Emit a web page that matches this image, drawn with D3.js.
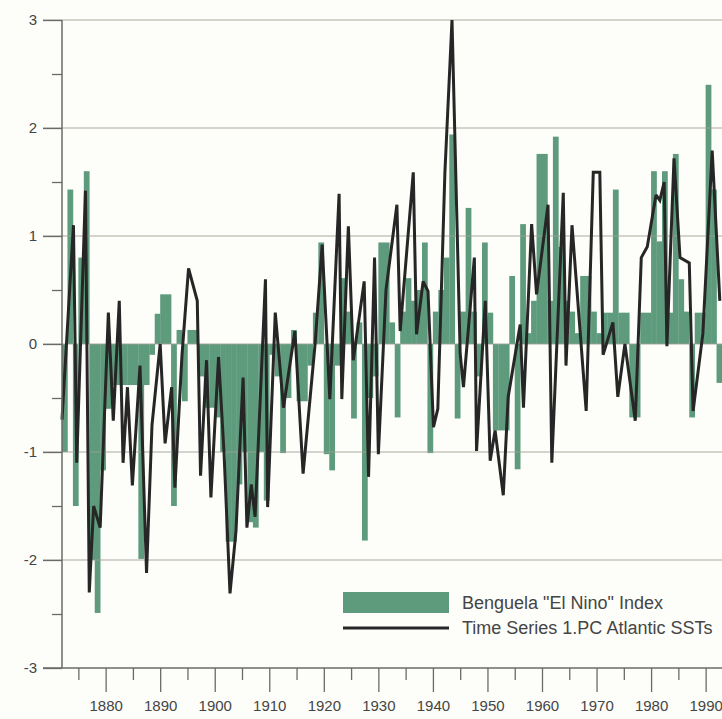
<!DOCTYPE html>
<html>
<head>
<meta charset="utf-8">
<script src="https://cdn.jsdelivr.net/npm/d3@7"></script>
<style>
  html, body { margin: 0; padding: 0; background: #fdfdf9; }
  svg { display: block; font-family: "Liberation Sans", Arial, sans-serif; }
</style>
</head>
<body>
<svg id="chart" width="722" height="719"></svg>
<script>
// Benguela index, one bar per year starting 1872
const firstYear = 1872;
const benguelaIndex = [
  -1.0, 1.43, -1.5, 0.8, 1.6, -2.0, -2.49, -1.17, -0.6, -0.38,
  -0.38, -0.38, -0.38, -0.38, -1.99, -0.38, -0.1, 0.28, 0.46, 0.46,
  -1.5, 0.13, -0.53, 0.13, 0.13, -0.3, -0.59, -0.59, -0.68, -1.0,
  -1.83, -1.83, -1.3, -1.0, -1.65, -1.7, -1.0, -1.45, -0.1, -0.3,
  -1.01, -0.5, 0.13, -0.53, -0.53, -0.2, 0.29, 0.94, -1.02, -1.17,
  -0.2, 0.61, 0.3, -0.69, 0.2, -1.82, -0.5, -0.3, 0.94, 0.94,
  0.2, -0.68, 0.3, 0.61, 0.4, 0.5, 0.94, -1.01, 0.3, 0.5,
  0.8, 1.94, -0.69, 0.3, 1.26, 0.3, -0.3, 0.94, 0.29, -0.8,
  -0.8, -0.8, 0.63, -1.16, 1.11, 0.1, 0.4, 1.76, 1.76, 0.4,
  1.92, 0.9, 0.4, 0.3, 0.1, 0.63, 0.63, 0.3, 0.1, 0.29,
  0.29, 1.43, 0.29, 0.29, -0.68, -0.68, 0.29, 0.29, 1.6, 0.95,
  1.6, 0.29, 1.76, 0.6, 0.3, -0.68, 0.29, 0.29, 2.4, 1.43,
  -0.36
];

// 1.PC Atlantic SSTs, vertices
const pcYears = [
  1872.0, 1874.1, 1874.7, 1876.3, 1877.0, 1877.8, 1879.0, 1880.5, 1881.4, 1882.5,
  1883.2, 1884.0, 1884.9, 1886.3, 1887.5, 1888.5, 1890.0, 1890.9, 1892.1, 1892.7,
  1894.0, 1895.2, 1896.8, 1897.4, 1898.5, 1899.3, 1900.7, 1901.7, 1902.8, 1903.9,
  1905.2, 1905.9, 1906.7, 1907.4, 1908.3, 1909.3, 1909.7, 1911.1, 1912.6, 1914.7,
  1916.2, 1918.4, 1919.7, 1921.1, 1922.8, 1923.3, 1924.5, 1925.4, 1927.4, 1928.2,
  1929.3, 1930.0, 1931.4, 1933.4, 1934.0, 1936.4, 1937.0, 1938.2, 1939.1, 1940.1,
  1940.9, 1942.2, 1943.5, 1945.0, 1945.6, 1947.6, 1948.0, 1949.6, 1950.5, 1951.4,
  1952.9, 1953.8, 1956.0, 1956.6, 1958.1, 1959.0, 1961.1, 1961.8, 1963.9, 1964.4,
  1965.5, 1968.1, 1969.4, 1970.6, 1971.2, 1973.0, 1973.9, 1975.2, 1977.1, 1978.2,
  1979.3, 1980.9, 1981.6, 1982.4, 1982.9, 1984.2, 1985.3, 1987.0, 1987.7, 1989.5,
  1991.2, 1992.6
];
const pcValues = [
  -0.7, 1.1, -1.1, 1.42, -2.3, -1.5, -1.7, 0.29, -0.71, 0.4,
  -1.1, -0.4, -1.31, -0.2, -2.12, -0.75, 0.0, -0.92, -0.4, -1.33,
  -0.1, 0.7, 0.4, -1.22, -0.15, -1.42, -0.12, -1.0, -2.31, -1.73,
  -0.31, -1.7, -1.3, -1.6, -0.56, 0.6, -1.51, 0.29, -0.59, 0.12,
  -1.2, 0.0, 0.92, -0.51, 1.39, -0.51, 1.09, -0.15, 0.58, -1.23,
  0.8, -1.02, 0.5, 1.29, 0.12, 1.59, 0.09, 0.58, 0.49, -0.77,
  -0.6, 1.59, 3.0, -0.09, -0.4, 0.8, -0.99, 0.4, -1.08, -0.8,
  -1.4, -0.49, 0.18, -0.59, 1.11, 0.46, 1.29, -1.1, 1.4, -0.2,
  1.1, -0.62, 1.59, 1.59, -0.1, 0.2, -0.49, 0.0, -0.71, 0.8,
  0.9, 1.38, 1.33, 1.5, -0.02, 1.72, 0.8, 0.75, -0.62, 0.1,
  1.79, 0.4
];

const yTicks = [-3, -2, -1, 0, 1, 2, 3];
const yMinorTicks = [-2.5, -1.5, -0.5, 0.5, 1.5, 2.5];
const decadeTicks = [1880, 1890, 1900, 1910, 1920, 1930, 1940, 1950, 1960, 1970, 1980, 1990];
const halfDecadeTicks = [1875, 1885, 1895, 1905, 1915, 1925, 1935, 1945, 1955, 1965, 1975, 1985];
const legendLabels = ['Benguela "El Nino" Index', "Time Series 1.PC Atlantic SSTs"];

const barColor = "#5e9b7d";
const lineColor = "#262626";
const textColor = "#454545";

const svg = d3.select("#chart");
const x = d3.scaleLinear().domain([firstYear, 1993]).range([62, 722]);
const y = d3.scaleLinear().domain([-3, 3]).range([668, 20]);

const bars = benguelaIndex.map((value, i) => ({ year: firstYear + i, value }));

svg.append("g")
  .selectAll("rect")
  .data(bars)
  .join("rect")
  .attr("x", (d) => x(d.year))
  .attr("width", (d) => x(d.year + 1) - x(d.year) + 0.3)
  .attr("y", (d) => y(Math.max(0, d.value)))
  .attr("height", (d) => Math.abs(y(d.value) - y(0)))
  .attr("fill", barColor);

// gridlines sit over the bars, as in the original
svg.append("g")
  .selectAll("line")
  .data(yTicks.filter((d) => d > -3))
  .join("line")
  .attr("x1", 43)
  .attr("x2", 722)
  .attr("y1", (d) => y(d))
  .attr("y2", (d) => y(d))
  .attr("stroke", "#9c9c94")
  .attr("stroke-opacity", 0.85)
  .attr("stroke-width", 1.2);

const line = d3.line()
  .x((d) => x(d[0]))
  .y((d) => y(d[1]));

svg.append("path")
  .datum(d3.zip(pcYears, pcValues))
  .attr("d", line)
  .attr("fill", "none")
  .attr("stroke", lineColor)
  .attr("stroke-width", 3)
  .attr("stroke-linejoin", "miter")
  .attr("stroke-miterlimit", 2.5);

// axes
const gy = svg.append("g").attr("transform", "translate(62,0)");
gy.call(d3.axisLeft(y).tickValues(yTicks).tickSize(19).tickPadding(6).tickFormat((d) => String(d)));
const gyMinor = svg.append("g").attr("transform", "translate(62,0)");
gyMinor.call(d3.axisLeft(y).tickValues(yMinorTicks).tickSize(10).tickFormat(""));

const gx = svg.append("g").attr("transform", "translate(0,668)");
gx.call(d3.axisBottom(x).tickValues(decadeTicks).tickSize(24).tickPadding(8).tickFormat((d) => String(d)));
const gxMinor = svg.append("g").attr("transform", "translate(0,668)");
gxMinor.call(d3.axisBottom(x).tickValues(halfDecadeTicks).tickSize(12).tickFormat(""));

[gy, gyMinor, gx, gxMinor].forEach((g) => {
  g.select(".domain").remove();
  g.selectAll(".tick line").attr("stroke", "#6a6a6a").attr("stroke-width", 1.3);
  g.selectAll(".tick text")
    .attr("fill", textColor)
    .style("font-size", "15px")
    .style("font-family", '"Liberation Sans", Arial, sans-serif');
});

svg.append("line")
  .attr("x1", 62).attr("x2", 62)
  .attr("y1", y(3)).attr("y2", y(-3))
  .attr("stroke", "#6a6a6a").attr("stroke-width", 1.5);

svg.append("line")
  .attr("x1", 43).attr("x2", 722)
  .attr("y1", y(-3)).attr("y2", y(-3))
  .attr("stroke", "#6a6a6a").attr("stroke-width", 1.5);

// legend
const legend = svg.append("g").attr("transform", "translate(343,592)");
legend.append("rect")
  .attr("width", 106).attr("height", 21)
  .attr("fill", barColor);
legend.append("line")
  .attr("x1", 0).attr("x2", 106)
  .attr("y1", 36).attr("y2", 36)
  .attr("stroke", lineColor).attr("stroke-width", 3);
legend.selectAll("text")
  .data(legendLabels)
  .join("text")
  .attr("x", 119)
  .attr("y", (d, i) => 11 + i * 25)
  .attr("dominant-baseline", "central")
  .attr("fill", textColor)
  .style("font-size", "18px")
  .text((d) => d);
</script>
</body>
</html>
